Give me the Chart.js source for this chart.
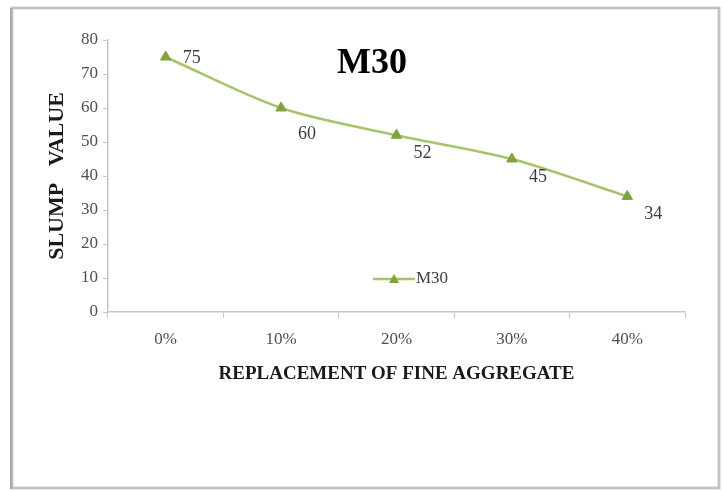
<!DOCTYPE html>
<html>
<head>
<meta charset="utf-8">
<script src="https://cdn.jsdelivr.net/npm/chart.js@4.4.0/dist/chart.umd.min.js"></script>
<style>
  html, body { margin: 0; padding: 0; background: #fff; }
  #wrap { position: relative; width: 722px; height: 491px; }
</style>
</head>
<body>
<div id="wrap"><canvas id="myChart" width="722" height="491"></canvas></div>
<script>
// data
const replacement = ["0%", "10%", "20%", "30%", "40%"];
const slumpM30 = [75, 60, 52, 45, 34];
const yTicks = [0, 10, 20, 30, 40, 50, 60, 70, 80];

const serif = "'Liberation Serif', 'Times New Roman', serif";
const lineGreen = "#a7c46a";
const markGreen = "#7ea43c";

// grey frame round the whole picture
const framePlugin = {
  id: "frame",
  beforeDraw(chart) {
    const ctx = chart.ctx;
    ctx.save();
    ctx.fillStyle = "#fff";
    ctx.fillRect(0, 0, chart.width, chart.height);
    ctx.strokeStyle = "#e6e6e6";
    ctx.lineWidth = 4;
    ctx.strokeRect(12, 8, 707, 480);
    ctx.strokeStyle = "#b8b8b8";
    ctx.lineWidth = 1.5;
    ctx.strokeRect(12, 8, 707, 480);
    // left edge is a bit heavier in the picture
    ctx.strokeStyle = "#a8a8a8";
    ctx.lineWidth = 2;
    ctx.beginPath();
    ctx.moveTo(11, 8);
    ctx.lineTo(11, 489);
    ctx.stroke();
    ctx.restore();
  },
};

// chart title inside the plot + value labels + legend inside the plot
const textPlugin = {
  id: "texts",
  afterDatasetsDraw(chart) {
    const ctx = chart.ctx;
    const area = chart.chartArea;
    ctx.save();

    ctx.fillStyle = "#000";
    ctx.font = "bold 36px " + serif;
    ctx.textAlign = "center";
    ctx.textBaseline = "middle";
    ctx.fillText("M30", area.left + 264, area.top + 24);

    // value labels
    const meta = chart.getDatasetMeta(0);
    ctx.font = "18px " + serif;
    ctx.fillStyle = "#3c3c48";
    meta.data.forEach((pt, i) => {
      const v = chart.data.datasets[0].data[i];
      if (i === 0) {
        ctx.fillText(v, pt.x + 26, pt.y + 1);
      } else {
        ctx.fillText(v, pt.x + 26, pt.y + (i === 1 ? 26 : 18));
      }
    });

    // legend
    const lx = area.left + 265, ly = area.top + 239;
    ctx.strokeStyle = lineGreen;
    ctx.lineWidth = 2.5;
    ctx.beginPath();
    ctx.moveTo(lx, ly);
    ctx.lineTo(lx + 42, ly);
    ctx.stroke();
    ctx.fillStyle = markGreen;
    ctx.beginPath();
    ctx.moveTo(lx + 21, ly - 5);
    ctx.lineTo(lx + 26, ly + 4);
    ctx.lineTo(lx + 16, ly + 4);
    ctx.closePath();
    ctx.fill();
    ctx.fillStyle = "#404040";
    ctx.font = "17px " + serif;
    ctx.textAlign = "left";
    ctx.fillText("M30", lx + 43, ly);

    ctx.restore();
  },
};

new Chart(document.getElementById("myChart"), {
  type: "line",
  data: {
    labels: replacement,
    datasets: [
      {
        label: "M30",
        data: slumpM30,
        borderColor: lineGreen,
        borderWidth: 2.5,
        tension: 0.3,
        fill: false,
        pointStyle: "triangle",
        pointRadius: 6,
        pointBackgroundColor: markGreen,
        pointBorderColor: markGreen,
        pointBorderWidth: 1,
      },
    ],
  },
  options: {
    responsive: false,
    animation: false,
    events: [],
    layout: {
      padding: { left: 20, top: 40, right: 37, bottom: 99 },
    },
    plugins: {
      legend: { display: false },
      tooltip: { enabled: false },
      title: { display: false },
    },
    scales: {
      x: {
        type: "category",
        offset: true,
        grid: {
          offset: true,
          drawOnChartArea: false,
          drawTicks: true,
          tickLength: 6,
          color: "#c8c8c8",
        },
        border: { color: "#c8c8c8", width: 1.5 },
        ticks: {
          color: "#4f4f4f",
          font: { family: serif, size: 17 },
          padding: 11,
          maxRotation: 0,
        },
        title: {
          display: true,
          text: "REPLACEMENT OF FINE AGGREGATE",
          color: "#1a1a1a",
          font: { family: serif, size: 19, weight: "bold" },
          padding: { top: 0, bottom: 7 },
        },
        afterFit(scale) {
          scale.height = 80;
        },
      },
      y: {
        min: 0,
        max: 80,
        afterBuildTicks(scale) {
          scale.ticks = yTicks.map((v) => ({ value: v }));
        },
        grid: {
          drawOnChartArea: false,
          drawTicks: true,
          tickLength: 5,
          color: "#c8c8c8",
        },
        border: { color: "#c8c8c8", width: 1.5 },
        ticks: {
          color: "#4f4f4f",
          font: { family: serif, size: 17 },
          padding: 5,
        },
        title: {
          display: true,
          text: "SLUMP   VALUE",
          color: "#1a1a1a",
          font: { family: serif, size: 22, weight: "bold" },
          padding: { top: 24, bottom: 0 },
        },
        afterFit(scale) {
          scale.width = 88;
        },
      },
    },
  },
  plugins: [framePlugin, textPlugin],
});
</script>
</body>
</html>
